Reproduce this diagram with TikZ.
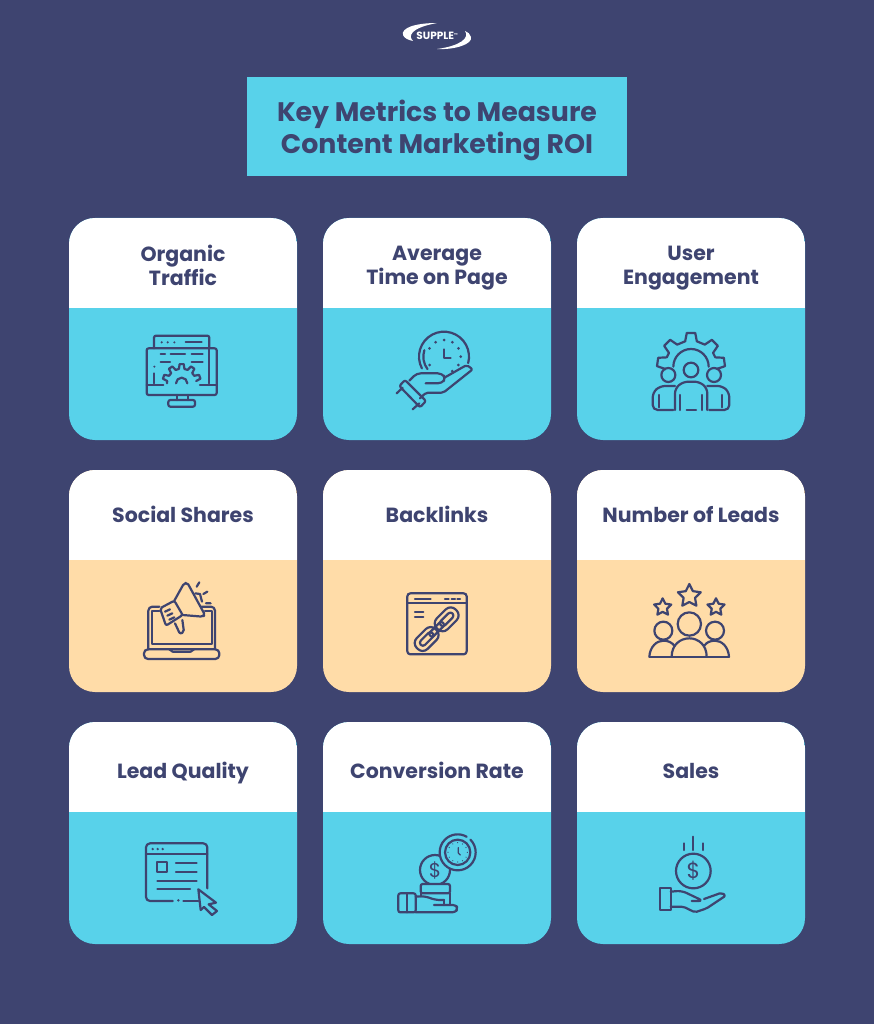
\documentclass[tikz,border=0pt]{standalone}
\usepackage{fontspec}
\setmainfont{Poppins}
\definecolor{navy}{HTML}{3E4470}
\definecolor{skyfill}{HTML}{58D2EA}
\definecolor{peach}{HTML}{FFDCA8}
\newcommand{\gearpart}[7]{%
  \begin{scope}[shift={(#1,#2)}]
    \draw[iconline] (#7:#3) \foreach \a in {#5} { -- (\a-#6:#3) -- (\a-#6*.55:#4) -- (\a+#6*.55:#4) -- (\a+#6:#3) };
  \end{scope}}
\newcommand{\starmark}[3]{%
  \begin{scope}[shift={(#1,#2)}]
    \draw[iconline] (-90:#3) -- (-54:#3*.5) -- (-18:#3) -- (18:#3*.5) -- (54:#3) -- (90:#3*.5) -- (126:#3) -- (162:#3*.5) -- (198:#3) -- (234:#3*.5) -- cycle;
  \end{scope}}
\tikzset{
  card/.style={minimum width=228pt, minimum height=222pt, inner sep=0pt, rounded corners=26pt,
    path picture={\fill[white, sharp corners] (path picture bounding box.north west) rectangle ([yshift=-90pt]path picture bounding box.north east);}},
  cardtext/.style={font=\fontsize{20.5}{24}\selectfont\bfseries, text=navy, align=center, inner sep=0pt,
    execute at begin node=\strut, execute at end node=\strut},
  iconline/.style={draw=navy, line width=2.2pt, line cap=round, line join=round},
  dollar/.style={font=\fontsize{20}{20}\selectfont, text=navy, inner sep=0pt},
}
\begin{document}
\begin{tikzpicture}[x=1pt, y=-1pt]
	  \useasboundingbox[fill=navy] (0,0) rectangle (874,1024);
	  \node (logoText) [font=\fontsize{10.5}{10.5}\selectfont\bfseries, text=white, inner sep=0pt] at (437,36) {SUPPLE{\fontsize{4}{4}\selectfont\raisebox{3.5pt}{™}}};
	  \fill[white] (437,23) .. controls (415,23) and (401,28) .. (403,35) .. controls (404,38) and (408,40) .. (413,41) .. controls (408,36) and (410,28) .. cycle;
	  \fill[white] (437,49) .. controls (455,50) and (473,44) .. (471,37) .. controls (470,34) and (468,32) .. (465,31) .. controls (470,38) and (460,46) .. cycle;
	  \node (titleBox) [fill=skyfill, minimum width=380pt, minimum height=99pt, inner sep=0pt] at (437,126.5) {};
	  \node (title) [font=\fontsize{26.8}{32}\selectfont\bfseries, text=navy, align=center, inner sep=0pt] at (437,130) {Key Metrics to Measure\\Content Marketing ROI};

	  \node (traffic) [card, fill=skyfill] at (183,329) {};
	  \node (timeOnPage) [card, fill=skyfill, right of=traffic, node distance=254pt] {};
	  \node (engagement) [card, fill=skyfill, right of=timeOnPage, node distance=254pt] {};
	  \node (shares) [card, fill=peach, below of=traffic, node distance=252pt] {};
	  \node (backlinks) [card, fill=peach, right of=shares, node distance=254pt] {};
	  \node (leads) [card, fill=peach, right of=backlinks, node distance=254pt] {};
	  \node (quality) [card, fill=skyfill, below of=shares, node distance=252pt] {};
	  \node (conversion) [card, fill=skyfill, right of=quality, node distance=254pt] {};
	  \node (sales) [card, fill=skyfill, right of=conversion, node distance=254pt] {};

	  \node (trafficText) [cardtext, above of=traffic, node distance=60.5pt] {Organic\\Traffic};
	  \node (timeOnPageText) [cardtext, above of=timeOnPage, node distance=60.5pt] {Average\\Time on Page};
	  \node (engagementText) [cardtext, above of=engagement, node distance=60.5pt] {User\\Engagement};
	  \node (sharesText) [cardtext, above of=shares, node distance=63pt] {Social Shares};
	  \node (backlinksText) [cardtext, above of=backlinks, node distance=63pt] {Backlinks};
	  \node (leadsText) [cardtext, above of=leads, node distance=63pt] {Number of Leads};
	  \node (qualityText) [cardtext, above of=quality, node distance=59pt] {Lead Quality};
	  \node (conversionText) [cardtext, above of=conversion, node distance=59pt] {Conversion Rate};
	  \node (salesText) [cardtext, above of=sales, node distance=59pt] {Sales};

	  \begin{scope}[shift={(120,320)}, scale=1/3]
	    \draw[iconline, rounded corners=2pt] (80,85) rectangle (290,225);
	    \draw[iconline] (80,195) -- (130,195) (240,195) -- (290,195);
	    \draw[iconline, rounded corners=2pt] (102,85) -- (102,47) -- (268,47) -- (268,85);
	    \draw[iconline] (103,160) -- (103,190) (268,85) -- (268,190);
	    \fill[navy] (103,140) circle (3.5) (125,67) circle (3.5) (143,67) circle (3.5) (163,67) circle (3.5);
	    \draw[iconline] (197,67) -- (245,67) (122,103) -- (135,103) (152,103) -- (195,103) (215,103) -- (248,103) (122,125) -- (150,125) (215,125) -- (248,125);
	    \gearpart{185}{190}{44}{58}{-160,-125,-90,-55,-20}{11}{-180}
	    \draw[iconline] (168,190) arc[start angle=180, end angle=360, radius=17];
	    \draw[iconline] (170,225) -- (170,240) (205,225) -- (205,240);
	    \draw[iconline, rounded corners=2pt] (145,240) rectangle (225,260);

	    \begin{scope}[shift={(972,110)}]
	      \draw[iconline] (152:75) arc[start angle=152, end angle=375, radius=75];
	      \draw[iconline] (143:62) arc[start angle=143, end angle=198, radius=62];
	      \foreach \a in {-150,-120,-90,-60,-30,0,30,60,150}
	        \fill[navy] (\a:50) circle (4.5);
	    \end{scope}
	    \draw[iconline] (972,88) -- (972,115) -- (992,115);
	    \draw[iconline, rounded corners=4pt] (868,182) -- (890,160) -- (965,160) -- (978,175) -- (965,190) -- (917,190);
	    \draw[iconline, rounded corners=2pt] (975,172) -- (1040,135) -- (1058,148) -- (970,218) -- (918,218) -- (900,235);
	    \draw[iconline, rounded corners=2pt] (855,180) -- (918,243) -- (900,262) -- (838,198) -- cycle;
	    \draw[iconline] (830,220) -- (848,203) (878,268) -- (898,250);
	  \end{scope}

	  \begin{scope}[shift={(630,320)}, scale=1/3]
	    \gearpart{183}{140}{78}{102}{-172,-135,-90,-45,-8}{13}{-186}
	    \draw[iconline] (130,140) arc[start angle=180, end angle=360, radius=53];
	    \draw[iconline] (183,150) circle (22) (115,165) circle (21) (252,165) circle (21);
	    \draw[iconline, rounded corners=5pt] (135,270) -- (135,205) -- (160,185) -- (208,185) -- (232,205) -- (232,270);
	    \draw[iconline] (150,270) -- (150,225) (215,270) -- (215,225) (170,270) -- (198,270);
	    \draw[iconline, rounded corners=5pt] (130,270) -- (68,270) -- (68,218) -- (90,198) -- (135,198);
	    \draw[iconline, rounded corners=5pt] (238,270) -- (298,270) -- (298,218) -- (278,198) -- (232,198);
	    \draw[iconline] (88,225) -- (88,262) (275,225) -- (275,262);
	  \end{scope}

	  \begin{scope}[shift={(130,570)}, scale=1/3]
	    \draw[iconline, rounded corners=4pt] (88,110) -- (55,110) -- (55,238);
	    \draw[iconline, rounded corners=4pt] (215,110) -- (255,110) -- (255,238);
	    \draw[iconline] (88,122) -- (65,122) -- (65,222) -- (245,222) -- (245,122) -- (225,122);
	    \draw[iconline, rounded corners=4pt] (42,238) rectangle (268,267);
	    \draw[iconline] (118,238) -- (128,245) -- (182,245) -- (192,238);
	    \draw[iconline, rounded corners=2pt] (90,115) -- (133,92) -- (158,135) -- (108,167) -- cycle;
	    \draw[iconline, rounded corners=2pt] (133,92) -- (162,40) -- (172,38) -- (225,135) -- (218,140) -- (158,135);
	    \draw[iconline] (105,125) -- (120,118) (112,137) -- (127,130) (118,149) -- (133,142);
	    \draw[iconline, rounded corners=2pt] (135,160) -- (150,192) -- (162,186) -- (157,150);
	    \draw[iconline] (196,70) -- (210,72) -- (216,95);
	    \draw[iconline] (200,50) -- (208,37) (220,72) -- (232,65) (228,100) -- (242,100);
	  \end{scope}

	  \begin{scope}[shift={(130,570)}, scale=1/3]
	    \draw[iconline, rounded corners=3pt] (832,70) rectangle (1010,253);
	    \draw[iconline] (832,100) -- (1010,100);
	    \draw[iconline] (855,88) -- (902,88) (945,88) -- (956,88) (965,88) -- (975,88) (982,88) -- (990,88);
	    \draw[iconline] (855,125) -- (880,125) (855,142) -- (880,142);
	    \draw[iconline, rotate around={45:(950,148)}, rounded corners=7pt] (910,125) rectangle (990,171);
	    \draw[iconline, rotate around={45:(950,148)}, rounded corners=3pt] (925,139) rectangle (975,157);
	    \draw[iconline, rotate around={45:(890,207)}, rounded corners=7pt] (850,184) rectangle (930,230);
	    \draw[iconline, rotate around={45:(890,207)}, rounded corners=3pt] (865,198) rectangle (915,216);
	    \draw[iconline, rotate around={45:(920,178)}, rounded corners=2pt] (893,170) rectangle (947,186);
	  \end{scope}

	  \begin{scope}[shift={(630,570)}, scale=1/3]
	    \starmark{178}{78}{36}
	    \starmark{98}{112}{27}
	    \starmark{258}{112}{27}
	    \draw[iconline] (178,162) circle (35) (100,182) circle (27) (255,182) circle (27);
	    \draw[iconline] (58,260) -- (297,260);
	    \draw[iconline] (125,260) .. controls (125,225) and (150,205) .. (178,205) .. controls (205,205) and (230,225) .. (230,260);
	    \draw[iconline] (58,260) .. controls (60,230) and (80,212) .. (100,212) .. controls (115,212) and (125,217) .. (134,228);
	    \draw[iconline] (297,260) .. controls (295,230) and (275,212) .. (255,212) .. controls (240,212) and (230,217) .. (222,228);
	  \end{scope}

	  \begin{scope}[shift={(130,825)}, scale=1/3]
	    \draw[iconline, rounded corners=4pt] (128,228) -- (48,228) -- (48,55) -- (232,55) -- (232,190);
	    \draw[iconline] (48,88) -- (232,88) (160,228) -- (205,228);
	    \fill[navy] (68,72) circle (4) (83,72) circle (4) (98,72) circle (4) (145,226) circle (4);
	    \draw[iconline] (82,112) rectangle (112,142);
	    \draw[iconline] (138,113) -- (200,113) (138,140) -- (200,140) (82,167) -- (200,167) (82,193) -- (180,193);
	    \draw[iconline] (205,193) -- (258,233) -- (236,238) -- (261,258) -- (246,270) -- (222,246) -- (212,255) -- cycle;
	  \end{scope}

	  \begin{scope}[shift={(130,825)}, scale=1/3]
	    \draw[iconline] (915,135) circle (45);
	    \node (coinMid) [dollar] at (915,135) {\$};
	    \begin{scope}[shift={(983,82)}]
	      \fill[skyfill] (0,0) circle (54);
	      \draw[iconline] (-45:54) arc[start angle=-45, end angle=300, radius=54];
	      \foreach \a in {0,30,...,330}
	        \fill[navy] (\a:29) circle (1.8);
	    \end{scope}
	    \draw[iconline] (983,82) circle (38);
	    \draw[iconline, line width=1.2pt] (985,68) -- (985,84) -- (991,90);
	    \draw[iconline, rounded corners=2pt, fill=skyfill] (872,177) rectangle (960,205);
	    \draw[iconline] (872,205) -- (872,215) (960,205) -- (960,238) (942,225) -- (942,240);
	    \draw[iconline, rounded corners=2pt] (805,205) rectangle (857,262);
	    \draw[iconline] (832,205) -- (832,262);
	    \draw[iconline, rounded corners=5pt] (857,215) -- (885,213) -- (915,225) -- (942,225);
	    \draw[iconline, rounded corners=3pt] (912,240) -- (978,240) -- (983,251) -- (976,262) -- (857,262);
	  \end{scope}

	  \begin{scope}[shift={(640,825)}, scale=1/3]
	    \draw[iconline] (131,55) -- (131,75) (159,35) -- (159,75) (188,55) -- (188,75);
	    \draw[iconline] (160,138) circle (52);
	    \node (coinDollar) [dollar, font=\fontsize{22}{22}\selectfont] at (160,138) {\$};
	    \draw[iconline] (60,190) rectangle (92,255);
	    \draw[iconline, rounded corners=5pt] (92,200) -- (125,197) -- (190,228) -- (155,228);
	    \draw[iconline, rounded corners=2pt] (192,222) -- (245,203) -- (257,212) -- (200,250) -- (165,262) -- (130,245) -- (92,245);
	  \end{scope}
	\end{tikzpicture}
\end{document}
